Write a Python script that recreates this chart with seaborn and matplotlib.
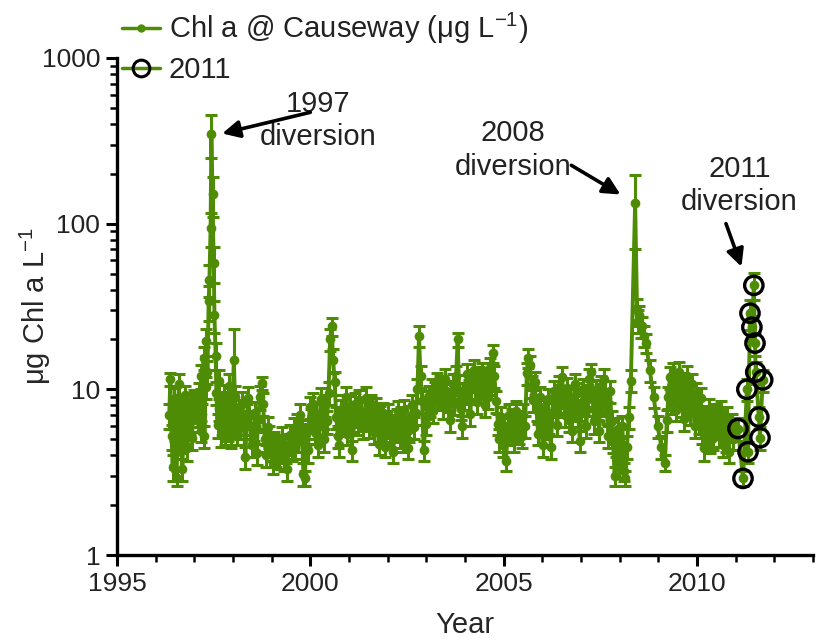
import matplotlib
matplotlib.use("Agg")
import matplotlib.pyplot as plt
from matplotlib.lines import Line2D
from matplotlib.ticker import MultipleLocator, LogLocator, FixedLocator, FixedFormatter, NullFormatter
import matplotlib.font_manager as fm
import numpy as np
import pandas as pd
import seaborn as sns

# ---------------- data ----------------
y96 = [1996.35, 1996.38, 1996.41, 1996.44, 1996.48, 1996.51, 1996.54, 1996.57, 1996.60, 1996.63, 1996.66, 1996.69,
       1996.72, 1996.76, 1996.79, 1996.82, 1996.85, 1996.88, 1996.91, 1996.94, 1996.97, 1997.00, 1997.04]
c96 = [7.0, 11.5, 5.2, 3.4, 8.8, 4.1, 2.9, 6.3, 10.8, 5.0, 7.9, 3.3, 6.8, 9.2, 5.6, 4.4, 7.7, 6.4, 8.3, 5.1, 7.4, 8.6, 7.9]
e96 = [1.2, 1.0, 0.9, 0.6, 1.4, 0.8, 0.3, 1.1, 1.5, 0.9, 1.2, 0.5, 1.0, 1.3, 0.9, 0.7, 1.1, 1.0, 1.2, 0.8, 1.1, 1.3, 1.2]

y97 = [1997.08, 1997.11, 1997.13, 1997.16, 1997.18, 1997.21, 1997.24, 1997.26, 1997.29, 1997.31, 1997.34, 1997.37,
       1997.39, 1997.42, 1997.44, 1997.47, 1997.50, 1997.52, 1997.55, 1997.57, 1997.60, 1997.63, 1997.65, 1997.68,
       1997.70, 1997.74, 1997.77, 1997.80, 1997.83, 1997.86, 1997.90, 1997.93, 1997.96, 1997.99]
c97 = [8.2, 6.5, 9.4, 5.6, 12.0, 7.1, 15.5, 5.2, 10.3, 19.5, 12.8, 34.0, 46.0, 94.0, 350.0, 150.0, 58.0, 28.0, 16.0,
       9.5, 6.1, 11.2, 7.6, 5.3, 8.4, 6.2, 9.1, 5.4, 7.8, 5.8, 10.5, 6.9, 5.2, 8.0]
e97 = [1.3, 1.0, 1.5, 0.8, 2.0, 1.1, 2.5, 0.8, 1.6, 3.5, 2.0, 8.0, 10.0, 22.0, 100.0, 40.0, 14.0, 6.0, 3.0, 1.5, 1.0,
       1.8, 1.2, 0.8, 1.3, 1.0, 1.5, 0.8, 1.2, 0.9, 1.8, 1.1, 0.8, 1.3]

y98 = [1998.02, 1998.05, 1998.08, 1998.11, 1998.15, 1998.19, 1998.24, 1998.28, 1998.32, 1998.36, 1998.40, 1998.44,
       1998.49, 1998.53, 1998.57, 1998.61, 1998.65, 1998.69, 1998.74, 1998.78, 1998.82, 1998.86, 1998.90, 1998.94, 1998.99]
c98 = [15.0, 9.0, 6.3, 5.5, 7.4, 5.9, 8.2, 6.3, 3.9, 7.0, 8.9, 6.0, 4.6, 5.8, 7.2, 4.1, 6.5, 9.0, 10.9, 8.2, 5.0, 4.0,
       5.9, 5.2, 4.4]
e98 = [8.0, 1.5, 1.0, 0.9, 1.2, 0.9, 1.4, 1.0, 0.6, 1.1, 1.5, 1.0, 0.7, 0.9, 1.2, 0.6, 1.0, 1.5, 1.0, 1.3, 0.8, 0.6,
       0.9, 0.8, 0.7]

y99 = [1999.03, 1999.07, 1999.11, 1999.15, 1999.19, 1999.23, 1999.28, 1999.32, 1999.36, 1999.40, 1999.44, 1999.48,
       1999.53, 1999.57, 1999.61, 1999.65, 1999.69, 1999.73, 1999.78, 1999.82, 1999.86, 1999.90, 1999.94, 1999.98]
c99 = [3.6, 4.8, 4.0, 4.5, 3.9, 4.6, 5.1, 3.8, 4.2, 3.3, 4.7, 5.3, 4.4, 5.8, 4.5, 6.1, 5.0, 7.0, 5.6, 3.1, 2.9, 5.4,
       4.3, 7.8]
e99 = [0.5, 0.7, 0.6, 0.7, 0.6, 0.7, 0.8, 0.6, 0.6, 0.5, 0.7, 0.8, 0.7, 0.9, 0.7, 1.0, 0.8, 1.1, 0.9, 0.5, 0.3, 0.8,
       0.7, 1.2]

y00 = [2000.03, 2000.07, 2000.11, 2000.15, 2000.19, 2000.23, 2000.27, 2000.31, 2000.35, 2000.39, 2000.43, 2000.47,
       2000.51, 2000.55, 2000.59, 2000.63, 2000.67, 2000.71, 2000.75, 2000.79, 2000.83, 2000.87, 2000.91, 2000.95, 2000.99]
c00 = [6.6, 8.2, 5.5, 7.1, 4.6, 6.0, 8.8, 7.2, 5.0, 8.0, 6.4, 9.5, 20.0, 24.0, 15.0, 11.0, 6.8, 5.2, 4.6, 7.5, 6.1,
       8.0, 9.0, 5.4, 6.8]
e00 = [1.0, 1.3, 0.8, 1.1, 0.7, 0.9, 1.4, 1.1, 0.8, 1.2, 1.0, 1.5, 3.0, 3.0, 2.5, 1.7, 1.0, 0.8, 0.7, 1.1, 0.9, 1.2,
       1.4, 0.8, 1.0]

y01 = [2001.03, 2001.07, 2001.11, 2001.15, 2001.19, 2001.23, 2001.27, 2001.31, 2001.35, 2001.39, 2001.44, 2001.48,
       2001.52, 2001.56, 2001.60, 2001.64, 2001.69, 2001.73, 2001.77, 2001.81, 2001.85, 2001.89, 2001.94, 2001.98]
c01 = [7.9, 4.3, 6.5, 8.2, 7.0, 6.2, 8.6, 7.3, 5.9, 6.6, 8.9, 7.5, 6.0, 8.1, 6.8, 5.5, 7.7, 6.3, 4.7, 6.9, 5.6, 7.2,
       4.5, 6.4]
e01 = [1.2, 0.6, 1.0, 1.3, 1.1, 0.9, 1.3, 1.1, 0.9, 1.0, 1.4, 1.1, 0.9, 1.2, 1.0, 0.8, 1.2, 1.0, 0.7, 1.0, 0.8, 1.1,
       0.6, 1.0]

y02 = [2002.02, 2002.06, 2002.10, 2002.14, 2002.19, 2002.23, 2002.27, 2002.31, 2002.35, 2002.39, 2002.43, 2002.48,
       2002.52, 2002.56, 2002.60, 2002.64, 2002.68, 2002.73, 2002.77, 2002.81, 2002.85, 2002.89, 2002.93, 2002.98]
c02 = [7.0, 5.3, 6.1, 4.2, 5.8, 6.6, 7.4, 5.2, 6.8, 4.9, 7.5, 6.0, 4.4, 5.7, 6.9, 8.0, 5.9, 7.2, 10.0, 21.0, 12.0,
       8.5, 4.3, 6.2]
e02 = [1.1, 0.8, 0.9, 0.6, 0.9, 1.0, 1.1, 0.8, 1.0, 0.7, 1.1, 0.9, 0.6, 0.9, 1.0, 1.2, 0.9, 1.1, 1.5, 3.0, 1.8, 1.3,
       0.6, 0.9]

y03 = [2003.02, 2003.06, 2003.10, 2003.14, 2003.18, 2003.23, 2003.27, 2003.31, 2003.35, 2003.39, 2003.43, 2003.47,
       2003.52, 2003.56, 2003.60, 2003.64, 2003.68, 2003.72, 2003.77, 2003.81, 2003.85, 2003.89, 2003.93, 2003.97]
c03 = [7.8, 9.1, 8.0, 10.0, 7.4, 9.6, 11.0, 8.8, 10.5, 9.2, 7.8, 11.5, 9.8, 8.6, 6.5, 9.3, 10.8, 8.2, 12.0, 20.0, 9.5,
       7.6, 6.0, 8.8]
e03 = [1.2, 1.4, 1.2, 1.5, 1.1, 1.4, 1.6, 1.3, 1.6, 1.4, 1.2, 1.7, 1.5, 1.3, 1.0, 1.4, 1.6, 1.2, 1.8, 2.0, 1.4, 1.1,
       0.9, 1.3]

y04 = [2004.02, 2004.06, 2004.10, 2004.14, 2004.18, 2004.22, 2004.27, 2004.31, 2004.35, 2004.39, 2004.43, 2004.47,
       2004.51, 2004.56, 2004.60, 2004.64, 2004.68, 2004.72, 2004.76, 2004.81, 2004.85, 2004.89, 2004.93, 2004.97]
c04 = [10.6, 12.4, 9.9, 7.1, 11.3, 13.0, 10.2, 8.4, 11.8, 9.6, 12.5, 10.4, 8.0, 11.7, 9.0, 13.5, 10.8, 16.5, 12.0,
       8.5, 6.2, 5.0, 6.8, 4.6]
e04 = [1.6, 1.9, 1.5, 1.1, 1.7, 2.0, 1.5, 1.3, 1.8, 1.4, 1.9, 1.6, 1.2, 1.8, 1.4, 2.0, 1.6, 2.0, 1.8, 1.3, 0.9, 0.8,
       1.0, 0.7]

y05 = [2005.01, 2005.06, 2005.10, 2005.14, 2005.18, 2005.22, 2005.26, 2005.31, 2005.35, 2005.39, 2005.43, 2005.47,
       2005.51, 2005.55, 2005.60, 2005.64, 2005.68, 2005.72, 2005.76, 2005.80, 2005.85, 2005.89, 2005.93, 2005.97]
c05 = [6.0, 3.7, 5.4, 7.0, 5.8, 6.6, 4.9, 7.4, 6.1, 5.5, 6.4, 5.2, 7.0, 6.0, 12.5, 15.5, 14.0, 10.5, 8.6, 11.0, 7.5,
       5.4, 9.0, 6.6]
e05 = [0.9, 0.5, 0.8, 1.1, 0.9, 1.0, 0.7, 1.1, 0.9, 0.8, 1.0, 0.8, 1.1, 0.9, 1.9, 2.0, 2.0, 1.6, 1.3, 1.7, 1.1, 0.8,
       1.4, 1.0]

y06 = [2006.01, 2006.05, 2006.10, 2006.14, 2006.18, 2006.22, 2006.26, 2006.30, 2006.35, 2006.39, 2006.43, 2006.47,
       2006.51, 2006.55, 2006.59, 2006.64, 2006.68, 2006.72, 2006.76, 2006.80, 2006.84, 2006.89, 2006.93, 2006.97]
c06 = [4.6, 7.8, 5.9, 8.8, 6.4, 4.5, 7.2, 9.8, 8.0, 6.1, 10.4, 8.2, 11.8, 9.1, 7.0, 10.2, 6.5, 8.7, 5.6, 7.9, 10.8,
       9.5, 6.9, 4.9]
e06 = [0.7, 1.2, 0.9, 1.3, 1.0, 0.7, 1.1, 1.5, 1.2, 0.9, 1.6, 1.2, 1.8, 1.4, 1.1, 1.5, 1.0, 1.3, 0.8, 1.2, 1.6, 1.4,
       1.0, 0.7]

y07 = [2007.01, 2007.05, 2007.09, 2007.14, 2007.18, 2007.22, 2007.26, 2007.30, 2007.34, 2007.39, 2007.43, 2007.47,
       2007.51, 2007.55, 2007.59, 2007.63, 2007.67, 2007.71, 2007.75, 2007.79, 2007.83, 2007.87, 2007.91, 2007.95, 2007.99]
c07 = [7.5, 10.0, 8.3, 6.0, 9.2, 11.5, 12.8, 8.8, 6.4, 9.9, 7.6, 5.6, 10.5, 8.1, 11.6, 9.7, 7.3, 5.2, 9.8, 6.4, 4.8,
       3.0, 4.6, 5.8, 3.4]
e07 = [1.1, 1.5, 1.2, 0.9, 1.4, 1.7, 1.5, 1.3, 1.0, 1.5, 1.1, 0.8, 1.6, 1.2, 1.7, 1.5, 1.1, 0.8, 1.5, 1.0, 0.7, 0.4,
       0.7, 0.9, 0.5]

y08 = [2008.03, 2008.07, 2008.11, 2008.15, 2008.19, 2008.23, 2008.29, 2008.40, 2008.45, 2008.48, 2008.51, 2008.54,
       2008.58, 2008.63, 2008.68, 2008.78, 2008.88, 2008.98]
c08 = [4.2, 6.0, 3.2, 2.9, 4.5, 6.8, 11.3, 133.0, 30.0, 26.0, 28.0, 24.0, 24.0, 21.0, 19.0, 13.0, 9.0, 6.0]
e08 = [0.6, 0.9, 0.4, 0.3, 0.7, 1.0, 1.7, 63.0, 5.0, 4.0, 4.0, 3.5, 3.5, 3.0, 2.5, 2.0, 1.3, 0.9]

y09 = [2009.08, 2009.17, 2009.22, 2009.26, 2009.30, 2009.34, 2009.38, 2009.42, 2009.46, 2009.50, 2009.54, 2009.58,
       2009.62, 2009.66, 2009.70, 2009.74, 2009.78, 2009.82, 2009.86, 2009.90, 2009.94, 2009.98]
c09 = [4.5, 3.6, 6.5, 9.0, 11.8, 8.4, 12.5, 10.2, 7.5, 9.6, 12.8, 11.0, 8.0, 6.6, 10.4, 12.0, 9.0, 7.2, 10.8, 8.5,
       6.0, 9.5]
e09 = [0.7, 0.4, 1.0, 1.4, 1.8, 1.3, 1.9, 1.5, 1.1, 1.4, 1.9, 1.6, 1.2, 1.0, 1.6, 1.8, 1.3, 1.1, 1.6, 1.3, 0.9, 1.4]

y10 = [2010.02, 2010.06, 2010.10, 2010.14, 2010.18, 2010.22, 2010.26, 2010.30, 2010.34, 2010.38, 2010.42, 2010.46,
       2010.50, 2010.54, 2010.58, 2010.62, 2010.66, 2010.70, 2010.74, 2010.78, 2010.82, 2010.86, 2010.90, 2010.94, 2010.98]
c10 = [7.8, 6.4, 8.9, 5.5, 4.4, 6.9, 5.8, 7.6, 4.8, 6.3, 5.1, 7.0, 5.9, 6.8, 5.3, 7.4, 4.6, 6.1, 5.0, 6.8, 4.2, 5.6,
       6.2, 5.0, 5.8]
e10 = [1.2, 1.0, 1.3, 0.8, 0.7, 1.0, 0.9, 1.1, 0.7, 1.0, 0.8, 1.1, 0.9, 1.0, 0.8, 1.1, 0.7, 0.9, 0.8, 1.0, 0.6, 0.8,
       0.9, 0.7, 0.9]

# 2011 diversion samples (circled)
y11 = [2011.06, 2011.19, 2011.29, 2011.32, 2011.37, 2011.42, 2011.47, 2011.50, 2011.52, 2011.60, 2011.63, 2011.70]
c11 = [5.8, 2.9, 10.0, 4.2, 28.8, 23.7, 42.4, 19.0, 12.7, 6.8, 5.1, 11.4]
e11 = [0.9, 0.3, 1.5, 0.6, 6.0, 4.0, 8.0, 3.0, 2.0, 1.0, 0.8, 1.7]

x_major = [1995, 2000, 2005, 2010]
y_major = [1, 10, 100, 1000]
y_major_labels = ["1", "10", "100", "1000"]

series_label = r"Chl a @ Causeway (μg L$^{\mathregular{-1}}$)"
circle_label = "2011"
ylabel_text = r"μg Chl a L$^{\mathregular{-1}}$"

# ---------------- style ----------------
sns.set_style("ticks")
avail = {f.name for f in fm.fontManager.ttflist}
fam = [f for f in ["Liberation Sans Narrow", "Liberation Sans", "DejaVu Sans"] if f in avail]
plt.rcParams["font.family"] = fam
plt.rcParams["mathtext.fontset"] = "custom"
plt.rcParams["mathtext.rm"] = fam[0]
plt.rcParams["mathtext.it"] = fam[0]
plt.rcParams["text.color"] = "#222222"

GREEN = "#4e8c05"
FS = 21
TFS = 19

years = y96 + y97 + y98 + y99 + y00 + y01 + y02 + y03 + y04 + y05 + y06 + y07 + y08 + y09 + y10 + y11
chl = c96 + c97 + c98 + c99 + c00 + c01 + c02 + c03 + c04 + c05 + c06 + c07 + c08 + c09 + c10 + c11
err = e96 + e97 + e98 + e99 + e00 + e01 + e02 + e03 + e04 + e05 + e06 + e07 + e08 + e09 + e10 + e11
df = pd.DataFrame({"year": years, "chl": chl, "err": err})
df11 = pd.DataFrame({"year": y11, "chl": c11})

fig = plt.figure(figsize=(8.16, 6.42), dpi=100)
ax = fig.add_axes([0.1434, 0.1355, 0.8529, 0.7742])

ax.errorbar(df["year"], df["chl"], yerr=df["err"], fmt="none", ecolor=GREEN,
            elinewidth=2.2, capsize=4.5, capthick=2.2, zorder=2)
sns.lineplot(data=df, x="year", y="chl", ax=ax, color=GREEN, lw=2.8, marker="o",
             markersize=7, markeredgewidth=0, estimator=None, sort=True, zorder=3, legend=False)
sns.scatterplot(data=df11, x="year", y="chl", ax=ax, s=175, facecolor="none",
                edgecolor="black", linewidth=2.4, zorder=5, legend=False)

ax.set_yscale("log")
ax.set_ylim(1, 1000)
ax.set_xlim(1995, 2013)
ax.xaxis.set_major_locator(FixedLocator(x_major))
ax.xaxis.set_minor_locator(MultipleLocator(1))
ax.yaxis.set_major_locator(FixedLocator(y_major))
ax.yaxis.set_major_formatter(FixedFormatter(y_major_labels))
ax.yaxis.set_minor_locator(LogLocator(base=10, subs=np.arange(2, 10)))
ax.yaxis.set_minor_formatter(NullFormatter())

for s in ["top", "right"]:
    ax.spines[s].set_visible(False)
for s in ["left", "bottom"]:
    ax.spines[s].set_linewidth(2.4)
    ax.spines[s].set_color("black")
ax.tick_params(which="major", length=8, width=2.2, color="black", labelsize=TFS, labelcolor="#222222", pad=4)
ax.tick_params(which="minor", length=5, width=1.8, color="black")

ax.set_xlabel("Year", fontsize=FS, labelpad=11)
ax.set_ylabel(ylabel_text, fontsize=FS)
ax.yaxis.set_label_coords(-0.092, 0.50)

# annotations
arrow = dict(arrowstyle="-|>", lw=2.6, color="black", mutation_scale=26, shrinkA=0, shrinkB=0)
ax.annotate("", xy=(1997.72, 350), xytext=(2000.0, 470), arrowprops=arrow, zorder=6)
ax.text(2000.2, 420, "1997\ndiversion", fontsize=FS, ha="center", va="center", linespacing=1.25)
ax.annotate("", xy=(2008.02, 150), xytext=(2006.75, 225), arrowprops=arrow, zorder=6)
ax.text(2005.25, 278, "2008\ndiversion", fontsize=FS, ha="center", va="center", linespacing=1.25)
ax.annotate("", xy=(2011.15, 55), xytext=(2010.75, 100), arrowprops=arrow, zorder=6)
ax.text(2011.1, 170, "2011\ndiversion", fontsize=FS, ha="center", va="center", linespacing=1.25)

handles = [
    Line2D([], [], color=GREEN, lw=2.5, marker="o", markersize=6, markeredgewidth=0),
    Line2D([], [], color=GREEN, lw=2.5, marker="o", markersize=12, markerfacecolor="none",
           markeredgecolor="black", markeredgewidth=2.2),
]
fig.legend(handles, [series_label, circle_label], loc="upper left", bbox_to_anchor=(0.128, 1.01),
           frameon=False, fontsize=FS, handlelength=1.3, handletextpad=0.3, labelspacing=0.35,
           borderaxespad=0.2)

fig.savefig("out.png", dpi=100)
